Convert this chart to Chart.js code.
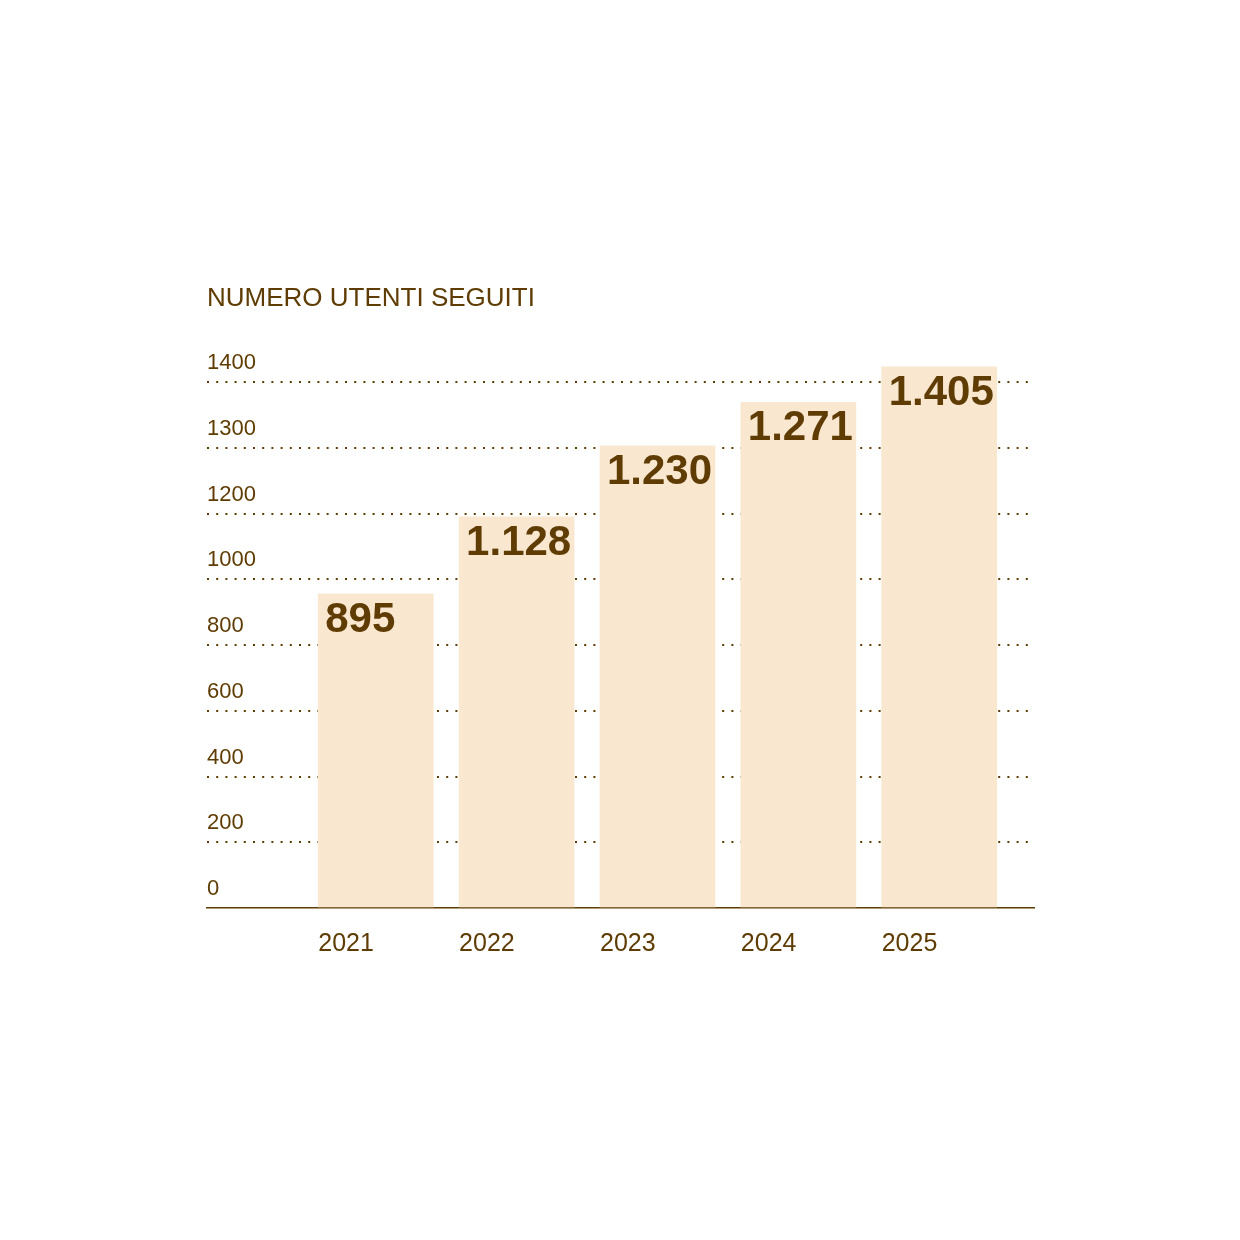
<!DOCTYPE html>
<html><head><meta charset="utf-8">
<script src="https://cdn.jsdelivr.net/npm/chart.js@4/dist/chart.umd.min.js"></script>
<style>html,body{margin:0;padding:0;background:#fff}#wrap{width:1240px;height:1240px;position:relative;background:#fff}</style>
</head><body><div id="wrap"><canvas id="c"></canvas></div>
<script>
// ---- data ----
const chartTitle = 'NUMERO UTENTI SEGUITI';
const years = ['2021', '2022', '2023', '2024', '2025'];
const values = [895, 1128, 1230, 1271, 1405];              // printed values
const valueLabels = ['895', '1.128', '1.230', '1.271', '1.405'];
// the reference uses an evenly spaced (non-linear) grid of these tick labels
const yTickLabels = ['0', '200', '400', '600', '800', '1000', '1200', '1300', '1400'];
// bar heights as drawn, read against that evenly spaced grid (in grid steps)
const barLevels = [4.78, 5.95, 7.03, 7.69, 8.23];

// ---- styles ----
const BROWN = '#5f3c03';
const BAR = '#f9e7cf';
const BAR_W = 115;
const FONT = "'Liberation Sans', Arial, sans-serif";

const valueLabelPlugin = {
  id: 'valueLabels',
  afterDatasetsDraw(chart) {
    const ctx = chart.ctx;
    const meta = chart.getDatasetMeta(0);
    ctx.save();
    ctx.fillStyle = BROWN;
    ctx.font = 'bold 42px ' + FONT;
    ctx.textAlign = 'left';
    ctx.textBaseline = 'alphabetic';
    meta.data.forEach((bar, i) => {
      const left = bar.x - bar.width / 2;
      ctx.fillText(valueLabels[i], left + 7, bar.y + 38);
    });
    ctx.restore();
  }
};

new Chart(document.getElementById('c'), {
  type: 'bar',
  data: {
    datasets: [{
      label: 'Numero utenti seguiti',
      data: years.map((y, i) => ({ x: i, y: barLevels[i] })),
      backgroundColor: BAR,
      borderWidth: 0,
      barThickness: BAR_W,
      clip: false
    }]
  },
  options: {
    responsive: true,
    maintainAspectRatio: false,
    animation: false,
    layout: { padding: { left: 207, right: 206, top: 283, bottom: 260 } },
    plugins: {
      legend: { display: false },
      tooltip: { enabled: false },
      title: {
        display: true, text: chartTitle, align: 'start', color: BROWN,
        font: { family: FONT, size: 26, weight: 'normal' },
        padding: { top: 0, bottom: 35 }
      }
    },
    scales: {
      x: {
        type: 'linear', min: -1.198, max: 4.673, offset: false,
        grid: { display: false, drawTicks: false },
        border: { display: true, color: BROWN, width: 1.5 },
        afterBuildTicks: s => { s.ticks = years.map((_, i) => ({ value: i })); },
        ticks: {
          align: 'start', labelOffset: -BAR_W / 2, padding: 21, color: BROWN,
          font: { family: FONT, size: 25 }, maxRotation: 0, autoSkip: false,
          callback: v => years[v]
        }
      },
      y: {
        type: 'linear', min: 0, max: 8.5,
        afterBuildTicks: s => { s.ticks = yTickLabels.map((_, i) => ({ value: i })); },
        grid: {
          drawTicks: false, lineWidth: 2,
          color: c => (c.tick && c.tick.value === 0) ? 'rgba(0,0,0,0)' : BROWN
        },
        border: { display: false, dash: [2, 7.2] },
        ticks: {
          mirror: true, padding: 0, labelOffset: -19, color: BROWN,
          font: { family: FONT, size: 22 },
          callback: v => yTickLabels[v]
        }
      }
    }
  },
  plugins: [valueLabelPlugin]
});
</script></body></html>
